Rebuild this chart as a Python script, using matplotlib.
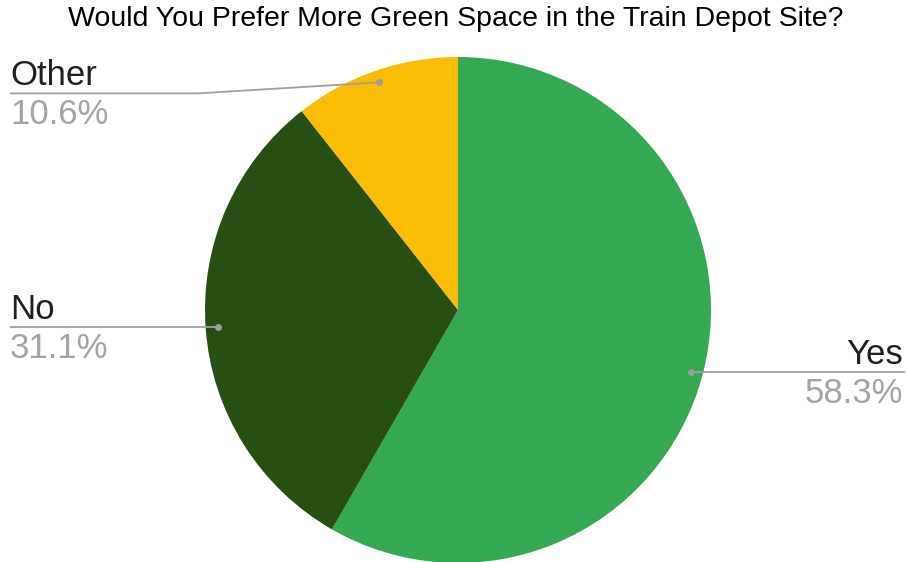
import numpy as np
import matplotlib.pyplot as plt

# survey answers
labels = ["Yes", "No", "Other"]
shares = [58.3, 31.1, 10.6]
colors = ["#34A853", "#274E13", "#FBBC04"]

W, H = 906, 562
plt.rcParams["font.family"] = ["Liberation Sans", "DejaVu Sans"]

fig = plt.figure(figsize=(W / 100, H / 100), dpi=100)
ax = fig.add_axes([0, 0, 1, 1])

cx, cy, R = 458, 252, 253
wedges, _ = ax.pie(shares, colors=colors, startangle=90, counterclock=False,
                   radius=R, center=(cx, cy), frame=True,
                   wedgeprops=dict(linewidth=0))
ax.set_xlim(0, W)
ax.set_ylim(0, H)
ax.set_aspect("equal")
ax.axis("off")

# leader lines: dot inside each wedge, bend, then horizontal run under the label
line_c = "#9E9E9E"
layout = {
    "Yes":   dict(elbow=None, end_x=905, ha="right", tx=903),
    "No":    dict(elbow=None, end_x=10, ha="left", tx=10),
    "Other": dict(elbow=198, end_x=10, ha="left", tx=10),
}
for w, lab, v in zip(wedges, labels, shares):
    mid = np.deg2rad((w.theta1 + w.theta2) / 2)
    px = cx + 0.952 * R * np.cos(mid)
    py = cy + 0.952 * R * np.sin(mid)
    cfg = layout[lab]
    ly = py - 11 if cfg["elbow"] else py
    if cfg["elbow"]:
        xs = [px, cfg["elbow"], cfg["end_x"]]
        ys = [py, ly, ly]
    else:
        xs = [px, cfg["end_x"]]
        ys = [py, ly]
    ax.plot(xs, ys, color=line_c, lw=1.3, solid_capstyle="butt")
    ax.plot(px, py, "o", color=line_c, ms=5, mec="none")
    ax.text(cfg["tx"], ly + 8, lab, ha=cfg["ha"], va="baseline",
            fontsize=25, color="#202020")
    ax.text(cfg["tx"], ly - 5, f"{v:.1f}%", ha=cfg["ha"], va="top",
            fontsize=25, color="#A3A3A3")

fig.text(456 / W, 1 - 19 / H, "Would You Prefer More Green Space in the Train Depot Site?",
         ha="center", va="center", fontsize=20.5, color="#000000")

fig.savefig("out.png", dpi=100)
